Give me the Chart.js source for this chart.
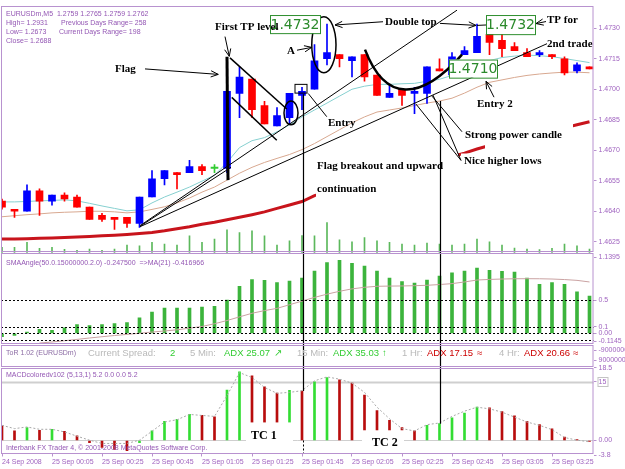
<!DOCTYPE html>
<html>
<head>
<meta charset="utf-8">
<title>EURUSDm,M5</title>
<script src="https://cdn.jsdelivr.net/npm/chart.js@4.4.1/dist/chart.umd.min.js"></script>
<style>
  html, body { margin: 0; padding: 0; background: #fff; }
  #chart { display: block; }
</style>
</head>
<body>
<canvas id="chart" width="625" height="469"></canvas>
<script>
// M5 bars, 24 Sep 23:45 -> 25 Sep 03:40
const barTimes = ['23:45', '23:50', '23:55', '00:00', '00:05', '00:10', '00:15', '00:20', '00:25', '00:30', '00:35', '00:40',
  '00:45', '00:50', '00:55', '01:00', '01:05', '01:10', '01:15', '01:20', '01:25', '01:30', '01:35', '01:40',
  '01:45', '01:50', '01:55', '02:00', '02:05', '02:10', '02:15', '02:20', '02:25', '02:30', '02:35', '02:40',
  '02:45', '02:50', '02:55', '03:00', '03:05', '03:10', '03:15', '03:20', '03:25', '03:30', '03:35', '03:40'];
const timeTicks = [0, 4, 8, 12, 16, 20, 24, 28, 32, 36, 40, 44];
const timeTickLabels = ['24 Sep 2008', '25 Sep 00:05', '25 Sep 00:25', '25 Sep 00:45', '25 Sep 01:05', '25 Sep 01:25',
  '25 Sep 01:45', '25 Sep 02:05', '25 Sep 02:25', '25 Sep 02:45', '25 Sep 03:05', '25 Sep 03:25'];

const opens = [1.4645, 1.4641, 1.4640, 1.4650, 1.4645, 1.4648, 1.4647, 1.4642, 1.4638, 1.4637, 1.4637, 1.4634,
  1.4647, 1.4656, 1.4659, 1.4659, 1.4662, 1.4661, 1.4661, 1.4698, 1.4705, 1.4692, 1.4682, 1.4686,
  1.4697, 1.4700, 1.4715, 1.4717, 1.4714, 1.4717, 1.4707, 1.4696, 1.4700, 1.4698, 1.4698, 1.4710,
  1.4707, 1.4717, 1.4718, 1.4727, 1.4724, 1.4721, 1.4718, 1.4717, 1.4717, 1.4715, 1.4709, 1.4711];
const highs = [1.4646, 1.4641, 1.4653, 1.4651, 1.4648, 1.4649, 1.4648, 1.4642, 1.4639, 1.4637, 1.4637, 1.4647,
  1.4660, 1.4660, 1.4659, 1.4665, 1.4663, 1.4663, 1.4705, 1.4711, 1.4705, 1.4694, 1.4691, 1.4698,
  1.4701, 1.4722, 1.4732, 1.4717, 1.4716, 1.4717, 1.4707, 1.4702, 1.4700, 1.4701, 1.4711, 1.4715,
  1.4718, 1.4721, 1.4732, 1.4727, 1.4727, 1.4723, 1.4720, 1.4719, 1.4717, 1.4716, 1.4713, 1.4711];
const lows = [1.4641, 1.4637, 1.4640, 1.4638, 1.4643, 1.4645, 1.4642, 1.4636, 1.4635, 1.4631, 1.4632, 1.4632,
  1.4647, 1.4653, 1.4651, 1.4659, 1.4658, 1.4659, 1.4659, 1.4686, 1.4686, 1.4683, 1.4682, 1.4683,
  1.4690, 1.4700, 1.4712, 1.4711, 1.4706, 1.4704, 1.4697, 1.4696, 1.4692, 1.4688, 1.4693, 1.4709,
  1.4707, 1.4717, 1.4718, 1.4717, 1.4716, 1.4719, 1.4716, 1.4716, 1.4715, 1.4707, 1.4708, 1.4710];
const closes = [1.4642, 1.4640, 1.4650, 1.4645, 1.4648, 1.4646, 1.4642, 1.4636, 1.4636, 1.4636, 1.4634, 1.4647,
  1.4656, 1.4660, 1.4658, 1.4662, 1.4660, 1.4661, 1.4699, 1.4706, 1.4690, 1.4683, 1.4687, 1.4698,
  1.4699, 1.4714, 1.4718, 1.4715, 1.4716, 1.4706, 1.4697, 1.4698, 1.4697, 1.4699, 1.4711, 1.4709,
  1.4716, 1.4719, 1.4726, 1.4723, 1.4720, 1.4719, 1.4716, 1.4718, 1.4716, 1.4708, 1.4712, 1.4710];
const volumes = [15, 15, 30, 12, 15, 9, 6, 10, 6, 10, 22, 20, 30, 25, 22, 50, 30, 40, 68, 60, 65, 50, 22, 35,
  51, 50, 90, 38, 32, 45, 35, 30, 25, 22, 28, 25, 22, 25, 40, 32, 22, 13, 10, 8, 12, 25, 20, 10];

// moving averages on the price window
const maFast = [1.46446, 1.46446, 1.46448, 1.46451, 1.46453, 1.46456, 1.46451, 1.46439, 1.46426, 1.46414, 1.46402, 1.46407,
  1.46441, 1.46470, 1.46494, 1.46519, 1.46548, 1.46577, 1.46640, 1.46713, 1.46747, 1.46762, 1.46791, 1.46825,
  1.46864, 1.46898, 1.46932, 1.46966, 1.47000, 1.47015, 1.47024, 1.47024, 1.47027, 1.47029, 1.47039, 1.47049,
  1.47068, 1.47092, 1.47122, 1.47141, 1.47156, 1.47163, 1.47168, 1.47165, 1.47160, 1.47151, 1.47141, 1.47131];
const maMid = [1.46373, 1.46378, 1.46383, 1.46387, 1.46392, 1.46395, 1.46397, 1.46400, 1.46400, 1.46397, 1.46392, 1.46397,
  1.46409, 1.46422, 1.46441, 1.46465, 1.46494, 1.46519, 1.46553, 1.46587, 1.46616, 1.46640, 1.46660, 1.46679,
  1.46703, 1.46733, 1.46767, 1.46801, 1.46835, 1.46864, 1.46888, 1.46898, 1.46908, 1.46920, 1.46932, 1.46942,
  1.46956, 1.46981, 1.47010, 1.47034, 1.47046, 1.47058, 1.47068, 1.47075, 1.47080, 1.47084, 1.47084, 1.47081];
const maSlow = [1.46263, 1.46264, 1.46265, 1.46267, 1.46269, 1.46271, 1.46273, 1.46276, 1.46279, 1.46282, 1.46286, 1.46291,
  1.46296, 1.46304, 1.46314, 1.46324, 1.46336, 1.46346, 1.46358, 1.46370, 1.46383, 1.46397, 1.46414, 1.46431,
  1.46448, 1.46477, 1.46494, 1.46514, 1.46531, 1.46548, 1.46567, 1.46584, 1.46601, 1.46618, 1.46635, 1.46652,
  1.46669, 1.46686, 1.46706, 1.46723, 1.46737, 1.46752, 1.46767, 1.46781, 1.46796, 1.46810, 1.46825, 1.46840];
const priceTicks = [1.4625, 1.4640, 1.4655, 1.4670, 1.4685, 1.4700, 1.4715, 1.4730];

// SMAAngle window
const smaAngle = [-0.05, -0.03, 0.02, 0.06, 0.045, 0.084, 0.134, 0.119, 0.134, 0.148, 0.163, 0.232,
  0.321, 0.381, 0.381, 0.381, 0.396, 0.406, 0.500, 0.707, 0.806, 0.796, 0.762, 0.786,
  0.831, 0.935, 1.063, 1.098, 1.053, 1.009, 0.935, 0.831, 0.776, 0.757, 0.801, 0.861,
  0.910, 0.935, 0.979, 0.945, 0.930, 0.920, 0.831, 0.737, 0.762, 0.737, 0.623, 0.559];
const smaSignal = [null, null, null, -0.145, -0.129, -0.11, -0.09, -0.069, -0.05, -0.032, -0.015, 0.002,
  0.02, 0.036, 0.054, 0.078, 0.104, 0.145, 0.193, 0.248, 0.302, 0.342, 0.376, 0.43,
  0.485, 0.54, 0.589, 0.632, 0.668, 0.692, 0.707, 0.71, 0.712, 0.716, 0.722, 0.733,
  0.747, 0.772, 0.801, 0.81, 0.816, 0.82, 0.821, 0.82, 0.816, 0.808, 0.796, 0.772];
const smaLevels = [0.5, 0.1, 0, -0.1];
const smaTicks = [1.1395, 0.5, 0.1, 0, -0.1145];
const smaTickLabels = ['1.1395', '0.5', '0.1', '0.00', '-0.1145'];

// ToR window
const torTicks = [-9000000, 9000000];
const torTickLabels = ['-9000000', '9000000'];

// MACDcolored window
const macdValues = [3.86, 2.43, 3.27, 2.60, 2.85, 2.35, 1.18, -0.59, -1.76, -2.27, -2.60, -0.59,
  2.43, 4.87, 5.37, 6.63, 6.38, 6.05, 12.85, 17.46, 16.46, 13.69, 12.09, 12.75,
  12.60, 14.94, 16.04, 15.45, 14.61, 11.59, 7.64, 5.12, 3.27, 2.43, 3.86, 4.28,
  5.79, 6.97, 8.48, 8.31, 7.39, 6.30, 4.87, 4.03, 2.94, 0.84, 0.25, -0.25];
const macdSignal = [3.86, 3.02, 3.44, 2.85, 2.85, 2.18, 1.09, 0.08, -0.76, -0.76, -0.76, 0.08,
  2.35, 4.70, 5.29, 6.63, 6.38, 6.13, 11.42, 17.30, 16.04, 13.52, 12.01, 12.26,
  12.68, 15.20, 16.20, 15.62, 14.61, 12.26, 8.48, 5.54, 3.02, 2.43, 4.03, 4.45,
  6.13, 7.47, 8.48, 8.06, 7.22, 5.96, 4.70, 3.86, 2.77, 0.76, 0.08, -0.34];
const macdLevels = [15, 0];
const macdTicks = [18.5, 15, 0, -3.8];
const macdTickLabels = ['18.5', '15', '0.00', '-3.8'];

// hand-drawn marks on the screenshot, in (bar index, price) units
const noteLines = [
  [18.0, 1.47160, 18.08, 1.46553, 3],
  [18.24, 1.47154, 22.78, 1.46903, 1.5],
  [18.38, 1.46960, 21.98, 1.46749, 1.5],
  [11.12, 1.46329, 18.32, 1.46616, 1],
  [11.04, 1.46329, 36.4, 1.47389, 1],
  [11.04, 1.46324, 43.6, 1.47224, 1],
  [24.5, 1.46979, 25.98, 1.46865, 1],
  [36.8, 1.46791, 34.4, 1.46966, 1],
  [36.72, 1.46650, 33.12, 1.46927, 1],
  [36.72, 1.46650, 34.48, 1.46971, 1],
  [38.0, 1.47314, 38.72, 1.47316, 1]
];
const noteArrows = [
  [17.84, 1.47259, 18.18, 1.47162],
  [11.44, 1.47100, 17.3, 1.47073],
  [23.6, 1.47192, 24.78, 1.47206],
  [30.48, 1.47332, 26.64, 1.47316],
  [35.04, 1.47324, 37.92, 1.47314],
  [39.36, 1.46961, 38.72, 1.47039],
  [43.52, 1.47333, 42.72, 1.47323]
];
const noteCovers = [
  [30.48, 1.47374, 34.88, 1.47282],
  [25.12, 1.46684, 36.48, 1.46446],
  [38.64, 1.46840, 45.68, 1.46684],
  [36.8, 1.46820, 44.88, 1.46733],
  [36.72, 1.46684, 43.44, 1.46606]
];
const noteTexts = [
  ['First TP level', 17.04, 1.47306],
  ['Flag', 9.04, 1.47097],
  ['A', 22.8, 1.47186],
  ['Entry', 26.08, 1.46835],
  ['Double top', 30.64, 1.47329],
  ['Flag breakout and upward', 25.2, 1.46621],
  ['continuation', 25.2, 1.46509],
  ['Strong power candle', 37.04, 1.46776],
  ['Nice higher lows', 36.96, 1.46645],
  ['Entry 2', 38.0, 1.46927],
  ['TP for', 43.6, 1.47340],
  ['2nd trade', 43.6, 1.47224]
];
const priceBoxes = [
  ['1.4732', 21.44, 1.47365, 25.44, 1.47276],
  ['1.4710', 35.76, 1.47146, 39.6, 1.47057],
  ['1.4732', 38.72, 1.47365, 42.64, 1.47271]
];
const noteEllipses = [[22.56, 1.46942, 23.68, 1.46825], [24.78, 1.47356, 26.72, 1.47081]];
const noteRects = [[23.44, 1.47024, 24.4, 1.46981]];
const cupCurve = [[29.04, 1.47195], [30.64, 1.46937], [33.44, 1.46937], [36.8, 1.47170]];
const signalBars = [[24.08, 1.46975, 24, true], [35.04, 1.46942, 35, false]];
const macdCovers = [[19.52, 4.6, 23.28, -1.44], [28.8, 2.6, 32.16, -2.44]];
const macdTexts = [['TC 1', 19.92, 1.08], ['TC 2', 29.6, -0.6]];

const BULL = '#0000ff', BEAR = '#ff0000', DOJI = '#33cc33';
const FRAME = '#b892cf', PURPLE = '#9457b4';

Chart.defaults.font.family = '"Liberation Sans", Arial, sans-serif';
Chart.defaults.font.size = 7;
Chart.defaults.color = '#a064c0';

const idx = barTimes.map((_, i) => i);
const xy = arr => arr.map((v, i) => ({ x: i, y: v }));
const candleColor = idx.map(i => closes[i] > opens[i] ? BULL : (closes[i] < opens[i] ? BEAR : DOJI));
const macdColor = macdValues.map((v, i) => (i > 0 && v > macdValues[i - 1]) ? '#33dd33' : '#b80d0d');

function pane(min, max, weight, tickValues, label, reverse) {
  return {
    type: 'linear', position: 'right', stack: 'panes', stackWeight: weight,
    min: min, max: max, reverse: !!reverse, bounds: 'data',
    border: { display: false },
    grid: { drawOnChartArea: false, tickLength: 3, color: FRAME },
    ticks: { autoSkip: false, padding: 2, callback: (v, i) => label(v, i) },
    afterBuildTicks: s => { s.ticks = tickValues.map(v => ({ value: v })); },
    afterFit: s => { s.width = 31.5; }
  };
}

function line(ctx, x1, y1, x2, y2) {
  ctx.beginPath(); ctx.moveTo(x1, y1); ctx.lineTo(x2, y2); ctx.stroke();
}
function arrow(ctx, x1, y1, x2, y2) {
  line(ctx, x1, y1, x2, y2);
  const ang = Math.atan2(y2 - y1, x2 - x1), L = 8, sp = 0.4;
  ctx.beginPath();
  ctx.moveTo(x2 - L * Math.cos(ang - sp), y2 - L * Math.sin(ang - sp));
  ctx.lineTo(x2, y2);
  ctx.lineTo(x2 - L * Math.cos(ang + sp), y2 - L * Math.sin(ang + sp));
  ctx.stroke();
}

const notes = {
  id: 'notes',
  beforeDatasetsDraw(chart) {
    const { ctx, chartArea: a, scales: s } = chart;
    ctx.save();
    ctx.strokeStyle = '#cfcfcf';
    macdLevels.forEach(v => {
      ctx.lineWidth = v === 0 ? 1 : 2;
      const y = Math.round(s.yMacd.getPixelForValue(v)) + 0.5;
      line(ctx, a.left, y, a.right, y);
    });
    ctx.restore();
  },
  afterDatasetsDraw(chart) {
    const { ctx, chartArea: a, scales: s } = chart;
    const X = i => s.x.getPixelForValue(i);
    const Y = p => s.yMain.getPixelForValue(p);
    const M = v => s.yMacd.getPixelForValue(v);
    ctx.save();
    // SMAAngle levels
    ctx.strokeStyle = '#000'; ctx.lineWidth = 1; ctx.setLineDash([2, 2]);
    smaLevels.forEach(v => {
      const y = Math.round(s.ySma.getPixelForValue(v)) + 0.5;
      line(ctx, a.left, y, a.right, y);
    });
    ctx.setLineDash([]);

    // pasted white label backgrounds
    ctx.fillStyle = '#fff';
    noteCovers.forEach(([i1, p1, i2, p2]) => ctx.fillRect(X(i1), Y(p1), X(i2) - X(i1), Y(p2) - Y(p1)));
    macdCovers.forEach(([i1, v1, i2, v2]) => ctx.fillRect(X(i1), M(v1), X(i2) - X(i1), M(v2) - M(v1)));

    ctx.strokeStyle = '#000';
    noteLines.forEach(([i1, p1, i2, p2, w]) => { ctx.lineWidth = w; line(ctx, X(i1), Y(p1), X(i2), Y(p2)); });
    ctx.lineWidth = 1;
    noteArrows.forEach(([i1, p1, i2, p2]) => arrow(ctx, X(i1), Y(p1), X(i2), Y(p2)));

    // vertical lines down to the MACD bars
    signalBars.forEach(([i, p, b, dotted]) => {
      const x = Math.round(X(i)) + 0.5;
      ctx.lineWidth = 1.2;
      line(ctx, x, Y(p), x, M(macdValues[b]));
      if (dotted) {
        ctx.lineWidth = 1; ctx.setLineDash([2, 2]);
        line(ctx, x, M(0), x, s.yMacd.bottom);
        ctx.setLineDash([]);
      }
    });

    ctx.lineWidth = 1.5;
    noteEllipses.forEach(([i1, p1, i2, p2]) => {
      ctx.beginPath();
      ctx.ellipse((X(i1) + X(i2)) / 2, (Y(p1) + Y(p2)) / 2, (X(i2) - X(i1)) / 2, (Y(p2) - Y(p1)) / 2, 0, 0, Math.PI * 2);
      ctx.stroke();
    });
    ctx.lineWidth = 1;
    noteRects.forEach(([i1, p1, i2, p2]) => ctx.strokeRect(X(i1), Y(p1), X(i2) - X(i1), Y(p2) - Y(p1)));

    ctx.lineWidth = 2.5;
    ctx.beginPath();
    ctx.moveTo(X(cupCurve[0][0]), Y(cupCurve[0][1]));
    ctx.bezierCurveTo(X(cupCurve[1][0]), Y(cupCurve[1][1]), X(cupCurve[2][0]), Y(cupCurve[2][1]),
      X(cupCurve[3][0]), Y(cupCurve[3][1]));
    ctx.stroke();

    // green price tags
    priceBoxes.forEach(([t, i1, p1, i2, p2]) => {
      const x = X(i1), y = Y(p1), w = X(i2) - x, h = Y(p2) - y;
      ctx.fillStyle = '#fff'; ctx.fillRect(x, y, w, h);
      ctx.strokeStyle = '#2f8f2f'; ctx.lineWidth = 1; ctx.strokeRect(x + 0.5, y + 0.5, w, h);
      ctx.fillStyle = '#2b8a2b'; ctx.font = '14px "DejaVu Sans"';
      ctx.textAlign = 'center'; ctx.textBaseline = 'middle';
      ctx.fillText(t, x + w / 2, y + h / 2 + 1);
    });

    ctx.fillStyle = '#000'; ctx.textAlign = 'left'; ctx.textBaseline = 'middle';
    ctx.font = 'bold 11px "Liberation Serif"';
    noteTexts.forEach(([t, i, p]) => ctx.fillText(t, X(i), Y(p)));
    ctx.font = 'bold 12px "Liberation Serif"';
    macdTexts.forEach(([t, i, v]) => ctx.fillText(t, X(i), M(v)));
    ctx.restore();
  },
  afterDraw(chart) {
    const { ctx, chartArea: a, scales: s } = chart;
    ctx.save();
    ctx.strokeStyle = FRAME; ctx.lineWidth = 1;
    ['yMain', 'ySma', 'yTor', 'yMacd'].forEach((id, k) => {
      const top = Math.round(s[id].top) + (k ? 1.5 : 0.5);
      const bottom = Math.round(s[id].bottom) - 0.5;
      ctx.strokeRect(a.left + 0.5, top, a.right - a.left - 1, bottom - top);
    });
    // "15" level tag on the MACD scale
    const y15 = s.yMacd.getPixelForValue(15);
    ctx.strokeStyle = '#c4c4c4';
    ctx.strokeRect(s.yMacd.left + 4.5, Math.round(y15) - 4.5, 10, 9);

    ctx.fillStyle = PURPLE; ctx.textAlign = 'left'; ctx.textBaseline = 'middle';
    ctx.font = '7px "Liberation Sans"';
    const L = a.left, T = s.yMain.top;
    [['EURUSDm,M5  1.2759 1.2765 1.2759 1.2762', 5, 8],
     ['High= 1.2931', 5, 17], ['Previous Days Range= 258', 60, 17],
     ['Low= 1.2673', 5, 26], ['Current Days Range= 198', 58, 26],
     ['Close= 1.2688', 5, 35]].forEach(([t, x, y]) => ctx.fillText(t, L + x, T + y));
    ctx.fillText('SMAAngle(50.0.15000000.2.0) -0.247500  =>MA(21) -0.416966', L + 5, s.ySma.top + 11);
    ctx.fillText('MACDcoloredv102 (5,13,1) 5.2 0.0 0.0 5.2', L + 5, s.yMacd.top + 8);
    ctx.fillText('Interbank FX Trader 4, \u00a9 2001-2008 MetaQuotes Software Corp.', L + 5, s.yMacd.bottom - 5);

    const ty = s.yTor.top + 9;
    ctx.fillStyle = '#8c6ca4';
    ctx.fillText('ToR 1.02 (EURUSDm)', L + 5, ty);
    ctx.font = '9.5px "Liberation Sans"';
    [['Current Spread:', 87, '#b9b9b9'], ['2', 169, '#33cc33'], ['5 Min:', 189, '#b9b9b9'],
     ['ADX 25.07', 223, '#33cc33'], ['\u2197', 273, '#33cc33'], ['15 Min:', 296, '#b9b9b9'],
     ['ADX 35.03', 332, '#33cc33'], ['\u2191', 381, '#33cc33'], ['1 Hr:', 401, '#b9b9b9'],
     ['ADX 17.15', 426, '#cc0000'], ['\u2248', 476, '#cc0000'], ['4 Hr:', 498, '#b9b9b9'],
     ['ADX 20.66', 523, '#cc0000'], ['\u2248', 572, '#cc0000']].forEach(([t, x, c]) => {
      ctx.fillStyle = c; ctx.fillText(t, L + x, ty);
    });
    ctx.restore();
  }
};

const datasets = [
  { type: 'bar', label: 'Body', yAxisID: 'yMain', order: 1, grouped: false,
    data: idx.map(i => ({ x: i, y: [opens[i], closes[i]] })),
    backgroundColor: candleColor, borderWidth: 0, barThickness: 7, minBarLength: 1.5 },
  { type: 'bar', label: 'Wick', yAxisID: 'yMain', order: 2, grouped: false,
    data: idx.map(i => ({ x: i, y: [lows[i], highs[i]] })),
    backgroundColor: candleColor, borderWidth: 0, barThickness: 1 },
  { type: 'line', label: 'MA fast', yAxisID: 'yMain', order: 3, data: xy(maFast),
    borderColor: '#86d0d0', borderWidth: 1, pointRadius: 0 },
  { type: 'line', label: 'MA mid', yAxisID: 'yMain', order: 4, data: xy(maMid),
    borderColor: '#d8a890', borderWidth: 1, pointRadius: 0 },
  { type: 'line', label: 'MA slow', yAxisID: 'yMain', order: 5, data: xy(maSlow),
    borderColor: '#c8141c', borderWidth: 3, pointRadius: 0 },
  { type: 'bar', label: 'Volume', yAxisID: 'yVol', order: 9, grouped: false, data: xy(volumes),
    backgroundColor: '#5cb85c', borderWidth: 0, barThickness: 1 },
  { type: 'bar', label: 'SMAAngle', yAxisID: 'ySma', order: 2, grouped: false, data: xy(smaAngle),
    backgroundColor: '#3cb43c', borderWidth: 0, barThickness: 3 },
  { type: 'line', label: 'MA(21)', yAxisID: 'ySma', order: 1, data: xy(smaSignal),
    borderColor: '#caa2a2', borderWidth: 1, pointRadius: 0 },
  { type: 'bar', label: 'MACD', yAxisID: 'yMacd', order: 2, grouped: false, data: xy(macdValues),
    backgroundColor: macdColor, borderWidth: 0, barThickness: 2 },
  { type: 'line', label: 'Signal', yAxisID: 'yMacd', order: 1, data: xy(macdSignal),
    borderColor: '#a8a8a8', borderWidth: 1, borderDash: [2, 2], pointRadius: 0 }
];

new Chart(document.getElementById('chart'), {
  type: 'bar',
  data: { datasets: datasets },
  options: {
    responsive: false,
    animation: false,
    devicePixelRatio: 1,
    events: [],
    layout: { padding: { left: 1, top: 1, right: 0, bottom: 0 } },
    plugins: { legend: { display: false }, tooltip: { enabled: false } },
    scales: {
      x: {
        type: 'linear', min: -0.08, max: 47.32, bounds: 'data', offset: false,
        border: { display: false },
        grid: { drawOnChartArea: false, offset: false, tickLength: 3, color: FRAME },
        ticks: { autoSkip: false, maxRotation: 0, align: 'start', padding: 1,
          callback: (v, i) => timeTickLabels[i] },
        afterBuildTicks: s => { s.ticks = timeTicks.map(v => ({ value: v })); },
        afterFit: s => { s.height = 15.5; }
      },
      yMain: pane(1.461979, 1.474084, 249, priceTicks, v => v.toFixed(4)),
      ySma: pane(-0.1632, 1.2166, 93, smaTicks, (v, i) => smaTickLabels[i]),
      yTor: pane(-19800000, 21600000, 23, torTicks, (v, i) => torTickLabels[i], true),
      yMacd: pane(-3.32, 18.72, 87.5, macdTicks, (v, i) => macdTickLabels[i]),
      yVol: { type: 'linear', display: false, min: -610.5, max: 747, bounds: 'data' }
    }
  },
  plugins: [notes]
});
</script>
</body>
</html>
